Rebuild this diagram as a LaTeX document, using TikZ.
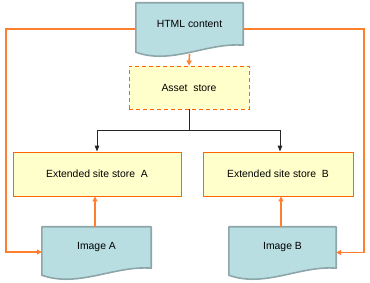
\documentclass[tikz,border=0pt]{standalone}
\usepackage{fontspec}
\setmainfont{Liberation Sans}
\usetikzlibrary{arrows.meta,backgrounds}
\definecolor{docfill}{HTML}{B9DEE2}
\definecolor{docline}{HTML}{8CA6A9}
\definecolor{storefill}{HTML}{FFFFCC}
\definecolor{storeline}{HTML}{FF6600}
\definecolor{feedline}{HTML}{FF7F2F}
% outline of a document node: #1 node name, #2 a third of its width
\newcommand{\docshape}[2]{%
  \path[docedge] (#1.north west) -- (#1.north east) -- (#1.south east)
    .. controls +(-#2,3pt) and +(#2,-13pt) .. ([yshift=-7pt]#1.south west) -- cycle;}
\begin{document}
\begin{tikzpicture}[x=1pt,y=-1pt,
  font=\fontsize{10.4}{12}\selectfont,
  doc/.style={inner sep=0pt, align=center},
  docedge/.style={draw=docline, fill=docfill, line width=1.6pt, line join=round},
  store/.style={draw=storeline, fill=storefill, line width=0.9pt, inner sep=0pt},
  feed/.style={draw=feedline, line width=1.6pt, -{Triangle[length=5pt,width=5pt]}},
  plain/.style={draw=black!85, line width=1pt},
  link/.style={plain, -{Triangle[length=6pt,width=4.5pt]}}]
\useasboundingbox (0,0) rectangle (370,283);
\node[doc, minimum width=107pt, minimum height=42pt] (html) at (189.5,24) {HTML content};
\node[store, dash pattern=on 4pt off 3pt, minimum width=120pt, minimum height=43pt] (asset) at (189,87.5) {Asset~ store};
\node[store, minimum width=168pt, minimum height=44pt] (extA) at (97,174) {Extended site store~ A};
\node[store, minimum width=150pt, minimum height=44pt] (extB) at (278,174) {Extended site store~ B};
\node[doc, minimum width=109pt, minimum height=41pt] (imgA) at (96.5,247.5) {Image A};
\node[doc, minimum width=107pt, minimum height=41pt] (imgB) at (282.5,247.5) {Image B};
\begin{scope}[on background layer]
  \docshape{html}{35.7pt}
  \docshape{imgA}{36.3pt}
  \docshape{imgB}{35.7pt}
\end{scope}
\coordinate (split) at (189,131);
\coordinate (lrail) at (6,0);
\coordinate (rrail) at (364,0);
\draw[feed] ([yshift=-9pt]html.south) -- (asset.north);
\draw[plain] (asset.south) -- (split);
\draw[link] (split) -| (extA.north);
\draw[link] (split) -| ([xshift=2pt]extB.north);
\draw[feed] ([xshift=-1.5pt]imgA.north) -- ([xshift=-1.5pt]imgA.north |- extA.south);
\draw[feed] ([xshift=-1.5pt]imgB.north) -- ([xshift=-1.5pt]imgB.north |- extB.south);
\draw[feed] ([yshift=-5pt]html.west) -- ([yshift=-5pt]html.west -| lrail) |- ([yshift=-4.5pt]imgA.west);
\draw[feed] ([yshift=-5pt]html.east) -- ([yshift=-5pt]html.east -| rrail) |- ([yshift=-5pt]imgB.east);
\end{tikzpicture}
\end{document}
